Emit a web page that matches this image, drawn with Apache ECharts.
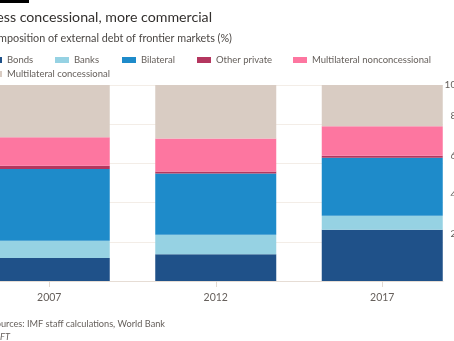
<!DOCTYPE html>
<html>
<head>
<meta charset="utf-8">
<script src="https://cdn.jsdelivr.net/npm/echarts@6/dist/echarts.min.js"></script>
<style>
html,body{margin:0;padding:0;background:#fff;}
#c{width:454px;height:341px;}
</style>
</head>
<body>
<div id="c"></div>
<script>
const categories = ['2007', '2012', '2017'];
const bonds = [11.7, 13.6, 26.2];
const banks = [8.8, 10.0, 7.1];
const bilateral = [36.6, 31.3, 29.6];
const otherPrivate = [1.7, 1.0, 1.0];
const multiNonconcessional = [14.5, 16.8, 15.0];
const multiConcessional = [26.7, 27.3, 21.1];
const seriesNames = ['Bonds', 'Banks', 'Bilateral', 'Other private', 'Multilateral nonconcessional', 'Multilateral concessional'];
const yTickValues = [0, 20, 40, 60, 80, 100];

const titleText = 'Less concessional, more commercial';
const subtitleText = 'Composition of external debt of frontier markets (%)';
const sourceText = 'Sources: IMF staff calculations, World Bank';
const creditText = '© FT';

const colors = ['#1f5189', '#96d2e3', '#1e8bca', '#b4365f', '#fd76a0', '#d9ccc3'];
const FONT = 'Lato, "Liberation Sans", sans-serif';
const seriesData = [bonds, banks, bilateral, otherPrivate, multiNonconcessional, multiConcessional];

const chart = echarts.init(document.getElementById('c'), null, {renderer: 'canvas'});

const legendLefts = [-12, 55, 122, 197, 293, -12];
const legendTops = [54, 54, 54, 54, 54, 68];
const legends = seriesNames.map((n, i) => ({
  data: [n],
  left: legendLefts[i],
  top: legendTops[i],
  padding: 0,
  itemWidth: 14,
  itemHeight: 6,
  icon: 'rect',
  selectedMode: false,
  textStyle: {fontSize: 9.5, color: '#66605c', fontFamily: FONT, lineHeight: 12}
}));

const option = {
  backgroundColor: '#fff',
  animation: false,
  legend: legends,
  grid: [
    {left: -34, top: 85, width: 499.5, height: 196, outerBoundsMode: 'none', containLabel: false},
    {left: -11, top: 85, width: 454, height: 196, outerBoundsMode: 'none', containLabel: false},
    {left: -11, top: 85, width: 454, height: 196, outerBoundsMode: 'none', containLabel: false}
  ],
  xAxis: [
    {
      type: 'category', gridIndex: 0, data: categories,
      axisLine: {show: false},
      axisTick: {show: true, alignWithLabel: true, length: 6, lineStyle: {color: '#e2d9d1'}},
      axisLabel: {fontSize: 10.5, color: '#66605c', margin: 11, fontFamily: FONT}
    },
    {
      type: 'value', gridIndex: 1, min: 0, max: 1,
      axisLine: {show: true, onZero: false, lineStyle: {color: '#e6ddd5'}},
      axisTick: {show: false}, axisLabel: {show: false}, splitLine: {show: false}
    },
    {
      type: 'value', gridIndex: 2, min: 0, max: 1, show: false
    }
  ],
  yAxis: [
    {type: 'value', gridIndex: 0, min: 0, max: 100, show: false},
    {
      type: 'value', gridIndex: 1, min: yTickValues[0], max: yTickValues[yTickValues.length - 1], interval: 20,
      position: 'right',
      axisLine: {show: false}, axisTick: {show: false},
      splitLine: {show: true, lineStyle: {color: '#f3ede7', width: 1}},
      axisLabel: {
        align: 'right', margin: 19, verticalAlign: 'bottom', padding: [0, 0, 3, 0],
        fontSize: 10, color: '#66605c', fontFamily: FONT,
        formatter: v => (v === yTickValues[0] || v === yTickValues[yTickValues.length - 1]) ? '' : String(v)
      }
    },
    {
      type: 'value', gridIndex: 2, min: yTickValues[0], max: yTickValues[yTickValues.length - 1], interval: 20,
      position: 'right',
      axisLine: {show: false}, axisTick: {show: false}, splitLine: {show: false},
      axisLabel: {
        align: 'right', margin: 19, verticalAlign: 'middle',
        fontSize: 10, color: '#66605c', fontFamily: FONT,
        formatter: v => v === yTickValues[yTickValues.length - 1] ? String(v) : ''
      }
    }
  ],
  series: seriesNames.map((n, i) => ({
    name: n,
    type: 'bar',
    stack: 'total',
    xAxisIndex: 0,
    yAxisIndex: 0,
    barWidth: 121,
    itemStyle: {color: colors[i]},
    data: seriesData[i]
  })),
  graphic: [
    {type: 'rect', shape: {x: 0, y: 0, width: 29, height: 3}, style: {fill: '#000'}},
    {type: 'text', x: 212, y: 17, style: {text: titleText, fill: '#33302e', font: '14.2px ' + FONT, align: 'right', verticalAlign: 'middle'}},
    {type: 'text', x: 232, y: 38.5, style: {text: subtitleText, fill: '#4a4643', font: '10.8px ' + FONT, align: 'right', verticalAlign: 'middle'}},
    {type: 'text', x: 165, y: 324, style: {text: sourceText, fill: '#66605c', font: '9.2px ' + FONT, align: 'right', verticalAlign: 'middle'}},
    {type: 'text', x: 10, y: 337, style: {text: creditText, fill: '#66605c', font: 'italic 9.2px ' + FONT, align: 'right', verticalAlign: 'middle'}}
  ]
};
chart.setOption(option);
</script>
</body>
</html>
